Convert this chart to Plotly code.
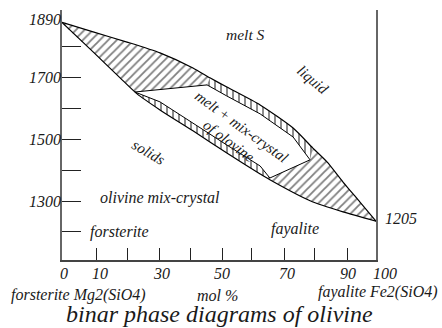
import plotly.graph_objects as go

# ---- data (x = mol % fayalite, y = temperature) ----
liq_x = [0, 9.9, 20.7, 31.2, 41.7, 47.1, 52.5, 63.1, 73.6, 79.9, 84.4, 89.5, 94.9, 100]
liq_y = [1880, 1849, 1816, 1781, 1732, 1700, 1670, 1612, 1537, 1472, 1427, 1362, 1297, 1235]

sol_x = [0, 9.9, 18.5, 23.9, 31.2, 41.7, 52.5, 63.1, 66.2, 79.0, 89.5, 100]
sol_y = [1880, 1784, 1700, 1648, 1596, 1528, 1456, 1388, 1369, 1301, 1265, 1235]

# inner white region (melt + mix-crystal), vertices & edges
upper_inner_x = [46.2, 52.5, 63.1, 73.6, 79.0]
upper_inner_y = [1677, 1641, 1583, 1508, 1434]
lower_inner_x = [23.2, 31.2, 41.7, 52.5, 63.1, 66.2]
lower_inner_y = [1654, 1622, 1554, 1482, 1414, 1375]

# axis ticks / labels
ytick_lines = [1200, 1300, 1400, 1500, 1600, 1700, 1800]
ytick_vals = [1300, 1500, 1700, 1890]
ytick_text = ["1300", "1500", "1700", "1890"]
xtick_lines = [11, 21, 31, 41, 51, 60.5, 71, 80.5, 91]
xlabel_pos = [0.6, 12.1, 31.8, 51, 71.7, 91.1, 102.9]
xlabel_text = ["0", "10", "30", "50", "70", "90", "100"]

FONT = "Liberation Serif"
TXT = "#1a1a1a"
HATCH = dict(size=6, solidity=0.3, fgcolor="black", bgcolor="white")

fig = go.Figure()

# whole lens with "/" hatch
fig.add_trace(go.Scatter(
    x=liq_x + sol_x[::-1], y=liq_y + sol_y[::-1],
    mode="lines", line=dict(width=0, shape="spline", smoothing=0.6),
    fill="toself", fillcolor="white",
    fillpattern=dict(shape="/", **HATCH),
    hoverinfo="skip", showlegend=False))

# upper band with "|" hatch
ub_x = [x for x in liq_x if 47 <= x <= 80] + upper_inner_x[::-1]
ub_y = [y for x, y in zip(liq_x, liq_y) if 47 <= x <= 80] + upper_inner_y[::-1]
fig.add_trace(go.Scatter(
    x=ub_x, y=ub_y, mode="lines", line=dict(width=0),
    fill="toself", fillcolor="white",
    fillpattern=dict(shape="|", **HATCH),
    hoverinfo="skip", showlegend=False))

# lower band with "|" hatch
lb_x = [x for x in sol_x if 23 <= x <= 67] + lower_inner_x[::-1]
lb_y = [y for x, y in zip(sol_x, sol_y) if 23 <= x <= 67] + lower_inner_y[::-1]
fig.add_trace(go.Scatter(
    x=lb_x, y=lb_y, mode="lines", line=dict(width=0),
    fill="toself", fillcolor="white",
    fillpattern=dict(shape="|", **HATCH),
    hoverinfo="skip", showlegend=False))

# white inner polygon
wp_x = [lower_inner_x[0]] + upper_inner_x + lower_inner_x[::-1]
wp_y = [lower_inner_y[0]] + upper_inner_y + lower_inner_y[::-1]
fig.add_trace(go.Scatter(
    x=wp_x, y=wp_y, mode="lines", line=dict(width=1, color="black"),
    fill="toself", fillcolor="white", hoverinfo="skip", showlegend=False))

# liquidus & solidus outlines
for xs, ys in ((liq_x, liq_y), (sol_x, sol_y)):
    fig.add_trace(go.Scatter(
        x=xs, y=ys, mode="lines",
        line=dict(width=1.2, color="black", shape="spline", smoothing=0.6),
        hoverinfo="skip", showlegend=False))

# dummy trace for label axis
fig.add_trace(go.Scatter(x=[50], y=[1500], yaxis="y2", mode="markers",
                         marker=dict(opacity=0), hoverinfo="skip", showlegend=False))

YR = [1109, 1920]
fig.update_layout(
    width=442, height=328,
    margin=dict(l=62, r=66, t=10, b=68),
    paper_bgcolor="white", plot_bgcolor="white",
    showlegend=False,
    xaxis=dict(range=[0, 100], showgrid=False, zeroline=False,
               showline=True, linecolor="#444", linewidth=1.5,
               tickvals=xtick_lines, ticks="inside", ticklen=12, tickwidth=1.2,
               tickcolor="#222", showticklabels=False, fixedrange=True),
    yaxis=dict(range=YR, showgrid=False, zeroline=False,
               showline=True, linecolor="#666", linewidth=1.5, mirror=True,
               tickvals=ytick_lines, ticks="inside", ticklen=19, tickwidth=1.2,
               tickcolor="#222", showticklabels=False, fixedrange=True),
    yaxis2=dict(range=YR, overlaying="y", side="left", showgrid=False,
                zeroline=False, showline=False, ticks="",
                tickvals=ytick_vals, ticktext=ytick_text,
                tickfont=dict(family=FONT, size=16, style="italic", color=TXT),
                fixedrange=True),
)

def ann(text, x, y, size=15, angle=0, ref="data"):
    xr, yr = ("x", "y") if ref == "data" else ("paper", "paper")
    fig.add_annotation(text=text, x=x, y=y, xref=xr, yref=yr, showarrow=False,
                       textangle=angle, xanchor="center", yanchor="middle",
                       font=dict(family=FONT, size=size, style="italic", color=TXT))

# labels inside the plot (data coordinates)
ann("melt S", 58.3, 1842, size=15.5)
ann("liquid", 79.9, 1693, angle=40)
ann("melt + mix-crystal", 57.3, 1541, angle=36)
ann("of olovine", 53.2, 1495, angle=37)
ann("solids", 27.4, 1459, angle=30)
ann("olivine mix-crystal", 31.2, 1310, size=16)
ann("forsterite", 18.2, 1200, size=16)
ann("fayalite", 74.2, 1210, size=16)
# labels outside the plot (paper coordinates)
ann("1205", 1.080, 0.168, size=16, ref="paper")
ann("forsterite Mg2(SiO4)", 0.054, -0.14, size=16, ref="paper")
ann("mol %", 0.494, -0.14, size=16, ref="paper")
ann("fayalite Fe2(SiO4)", 1.006, -0.128, size=16, ref="paper")
for t, xp in zip(xlabel_text, xlabel_pos):
    ann(t, xp / 100, -0.052, size=16, ref="paper")
ann("binar phase diagrams of olivine", 0.503, -0.214, size=24, ref="paper")

fig.write_html("out.html", config={"displayModeBar": False},
               post_script="document.body.style.margin='0';")
